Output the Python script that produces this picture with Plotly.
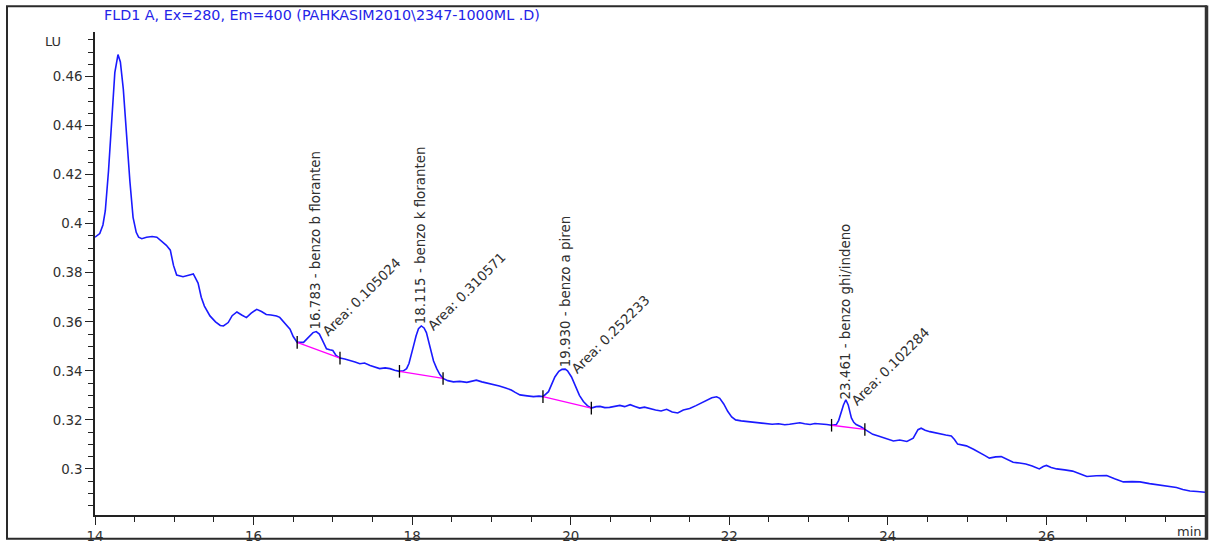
import numpy as np
import plotly.graph_objects as go

# FLD1 chromatogram: retention time (min) vs signal (LU)
time_min = [
    14.00, 14.06, 14.10, 14.13, 14.17, 14.21, 14.25, 14.29, 14.32, 14.357, 14.40, 14.44,
    14.48, 14.52, 14.55, 14.59, 14.65, 14.72, 14.78, 14.84, 14.90, 14.95, 14.99, 15.03,
    15.11, 15.18, 15.24, 15.30, 15.34, 15.38, 15.45, 15.52, 15.58, 15.62, 15.68, 15.73,
    15.79, 15.85, 15.91, 15.97, 16.04, 16.10, 16.16, 16.22, 16.29, 16.33, 16.40, 16.46,
    16.50, 16.55, 16.63, 16.70, 16.75, 16.79, 16.83, 16.86, 16.92, 16.96, 17.00, 17.04,
    17.09, 17.15, 17.22, 17.28, 17.34, 17.40, 17.47, 17.53, 17.59, 17.66, 17.72, 17.78,
    17.84, 17.89, 17.93, 17.96, 17.99, 18.02, 18.05, 18.08, 18.115, 18.15, 18.18, 18.21,
    18.24, 18.27, 18.31, 18.35, 18.39, 18.45, 18.52, 18.60, 18.69, 18.75, 18.81, 18.88,
    18.95, 19.02, 19.10, 19.18, 19.25, 19.30, 19.36, 19.45, 19.53, 19.60, 19.65, 19.72,
    19.76, 19.80, 19.85, 19.89, 19.93, 19.96, 20.01, 20.07, 20.11, 20.16, 20.21, 20.26,
    20.32, 20.37, 20.43, 20.49, 20.56, 20.62, 20.68, 20.75, 20.81, 20.87, 20.93, 21.00,
    21.07, 21.14, 21.21, 21.28, 21.35, 21.42, 21.50, 21.58, 21.65, 21.72, 21.78, 21.84,
    21.88, 21.93, 21.98, 22.03, 22.08, 22.15, 22.22, 22.30, 22.38, 22.46, 22.54, 22.62,
    22.70, 22.76, 22.83, 22.89, 22.95, 23.02, 23.08, 23.14, 23.20, 23.23, 23.29, 23.35,
    23.38, 23.40, 23.44, 23.47, 23.50, 23.54, 23.57, 23.60, 23.66, 23.71, 23.76, 23.81,
    23.88, 23.94, 24.00, 24.07, 24.15, 24.24, 24.32, 24.38, 24.42, 24.47, 24.53, 24.60,
    24.66, 24.73, 24.80, 24.84, 24.88, 24.94, 24.99, 25.08, 25.16, 25.22, 25.28, 25.36,
    25.43, 25.50, 25.58, 25.66, 25.74, 25.82, 25.91, 25.96, 26.00, 26.06, 26.13, 26.23,
    26.33, 26.42, 26.51, 26.63, 26.76, 26.86, 26.97, 27.08, 27.18, 27.30, 27.43, 27.53,
    27.64, 27.72, 27.81, 27.90, 28.00,
]
signal_lu = [
    0.3945, 0.3960, 0.3995, 0.4053, 0.4214, 0.4415, 0.4616, 0.4690, 0.4660, 0.4549, 0.4348, 0.4173,
    0.4026, 0.3965, 0.3945, 0.3939, 0.3945, 0.3948, 0.3945, 0.3930, 0.3912, 0.3892, 0.3830, 0.3791,
    0.3784, 0.3790, 0.3795, 0.3758, 0.3700, 0.3664, 0.3624, 0.3600, 0.3585, 0.3583, 0.3597, 0.3625,
    0.3640, 0.3628, 0.3617, 0.3635, 0.3651, 0.3642, 0.3630, 0.3628, 0.3624, 0.3618, 0.3592, 0.3570,
    0.3540, 0.3516, 0.3516, 0.3538, 0.3556, 0.3560, 0.3550, 0.3530, 0.3490, 0.3486, 0.3483, 0.3463,
    0.3452, 0.3448, 0.3443, 0.3436, 0.3429, 0.3432, 0.3422, 0.3416, 0.3409, 0.3412, 0.3409, 0.3402,
    0.3398, 0.3400, 0.3409, 0.3430, 0.3463, 0.3505, 0.3543, 0.3572, 0.3583, 0.3575, 0.3556, 0.3518,
    0.3476, 0.3440, 0.3409, 0.3385, 0.3369, 0.3360, 0.3355, 0.3357, 0.3353, 0.3358, 0.3362, 0.3355,
    0.3350, 0.3344, 0.3338, 0.3330, 0.3322, 0.3312, 0.3302, 0.3298, 0.3295, 0.3297, 0.3295, 0.3315,
    0.3345, 0.3375, 0.3398, 0.3406, 0.3407, 0.3400, 0.3375, 0.3329, 0.3300, 0.3275, 0.3258, 0.3248,
    0.3254, 0.3255, 0.3250, 0.3251, 0.3257, 0.3259, 0.3254, 0.3262, 0.3255, 0.3248, 0.3252, 0.3245,
    0.3240, 0.3236, 0.3243, 0.3232, 0.3228, 0.3240, 0.3246, 0.3258, 0.3270, 0.3282, 0.3290, 0.3294,
    0.3288, 0.3265, 0.3235, 0.3212, 0.3200, 0.3196, 0.3194, 0.3190, 0.3189, 0.3186, 0.3182, 0.3184,
    0.3180, 0.3182, 0.3185, 0.3188, 0.3184, 0.3181, 0.3185, 0.3184, 0.3180, 0.3181, 0.3178, 0.3181,
    0.3198, 0.3221, 0.3261, 0.3282, 0.3261, 0.3208, 0.3190, 0.3181, 0.3172, 0.3161, 0.3152, 0.3141,
    0.3134, 0.3128, 0.3122, 0.3114, 0.3118, 0.3112, 0.3125, 0.3160, 0.3166, 0.3158, 0.3152, 0.3146,
    0.3141, 0.3138, 0.3134, 0.3120, 0.3101, 0.3098, 0.3094, 0.3080, 0.3067, 0.3055, 0.3044, 0.3049,
    0.3050, 0.3038, 0.3027, 0.3024, 0.3020, 0.3012, 0.3000, 0.3010, 0.3014, 0.3006, 0.3000, 0.2996,
    0.2991, 0.2980, 0.2969, 0.2972, 0.2973, 0.2960, 0.2947, 0.2948, 0.2947, 0.2940, 0.2933, 0.2928,
    0.2924, 0.2916, 0.2910, 0.2908, 0.2905,
]

# Integrated peaks
peak_rt = [16.783, 18.115, 19.930, 23.461]
peak_name = ["benzo b floranten", "benzo k floranten", "benzo a piren", "benzo ghi/indeno"]
peak_area = [0.105024, 0.310571, 0.252233, 0.102284]

# Integration baselines (start / end of each peak)
base_start_t = [16.55, 17.84, 19.65, 23.29]
base_start_v = [0.3516, 0.3398, 0.3295, 0.3178]
base_end_t = [17.09, 18.39, 20.26, 23.71]
base_end_v = [0.3452, 0.3369, 0.3248, 0.3161]

x_ticks = [14, 16, 18, 20, 22, 24, 26]
y_ticks = [0.30, 0.32, 0.34, 0.36, 0.38, 0.40, 0.42, 0.44, 0.46]
y_tick_text = ["0.3", "0.32", "0.34", "0.36", "0.38", "0.4", "0.42", "0.44", "0.46"]

title_text = "FLD1 A, Ex=280, Em=400 (PAHKASIM2010\\2347-1000ML .D)"

FONT = "DejaVu Sans"
TEXT = "#303030"
LABEL_SIZE = 13.4

fig = go.Figure()

fig.add_trace(go.Scatter(
    x=time_min, y=signal_lu, mode="lines",
    line=dict(color="#1a1aff", width=1.6), hoverinfo="skip", showlegend=False,
))

# baselines as separated segments
bx, by = [], []
for t0, v0, t1, v1 in zip(base_start_t, base_start_v, base_end_t, base_end_v):
    bx += [t0, t1, None]
    by += [v0, v1, None]
fig.add_trace(go.Scatter(
    x=bx, y=by, mode="lines", line=dict(color="#ff00ff", width=1.3),
    hoverinfo="skip", showlegend=False,
))

# small tick marks at baseline ends
fig.add_trace(go.Scatter(
    x=base_start_t + base_end_t, y=base_start_v + base_end_v, mode="markers",
    marker=dict(symbol="line-ns", size=9, line=dict(color="#000000", width=1.3)),
    hoverinfo="skip", showlegend=False,
))

annotations = []
apex = np.interp(peak_rt, time_min, signal_lu)
for rt, name, area, top in zip(peak_rt, peak_name, peak_area, apex):
    annotations.append(dict(
        x=rt, y=top, xref="x", yref="y", text=f"{rt:.3f} - {name}",
        showarrow=False, textangle=-90, xanchor="center", yanchor="bottom",
        yshift=0, font=dict(family=FONT, size=LABEL_SIZE, color=TEXT),
    ))
    annotations.append(dict(
        x=rt, y=top, xref="x", yref="y", text=f"Area: {area:g}",
        showarrow=False, textangle=-45, xanchor="left", yanchor="bottom",
        xshift=1, yshift=-10, font=dict(family=FONT, size=LABEL_SIZE, color=TEXT),
    ))

# plot-area geometry in pixels (for frame and free text)
W, H = 1212, 551
L, R, T, B = 95, 7, 32, 29
pw, ph = W - L - R, H - T - B


def px(xp):
    return (xp - L) / pw


def py(yp):
    return (H - B - yp) / ph


annotations += [
    dict(x=px(102), y=py(15), xref="paper", yref="paper", text=title_text,
         showarrow=False, xanchor="left", yanchor="middle",
         font=dict(family=FONT, size=14.3, color="#2424e8")),
    dict(x=px(53), y=py(42), xref="paper", yref="paper", text="LU",
         showarrow=False, xanchor="center", yanchor="middle",
         font=dict(family=FONT, size=13, color=TEXT)),
    dict(x=px(1204), y=py(539), xref="paper", yref="paper", text="min",
         showarrow=False, xanchor="right", yanchor="middle",
         font=dict(family=FONT, size=13, color=TEXT)),
]

fig.update_layout(
    width=W, height=H,
    margin=dict(l=L, r=R, t=T, b=B),
    paper_bgcolor="white", plot_bgcolor="white",
    annotations=annotations,
    shapes=[
        dict(type="rect", xref="paper", yref="paper",
             x0=px(7), x1=px(1206), y0=py(546), y1=py(6),
             line=dict(color="#2a2a2a", width=2), layer="below"),
        dict(type="line", xref="paper", yref="paper",
             x0=px(1206.5), x1=px(1206.5), y0=py(547), y1=py(5),
             line=dict(color="#333333", width=3.5), layer="above"),
    ],
    xaxis=dict(
        range=[14, 28], tickvals=x_ticks, ticks="outside", ticklen=8, tickwidth=1.3,
        tickcolor="#222", showline=True, linecolor="#222", linewidth=1.5,
        showgrid=False, zeroline=False, tickfont=dict(family=FONT, size=13.4, color=TEXT),
        minor=dict(dtick=0.5, ticks="outside", ticklen=5, tickwidth=1.3, tickcolor="#222"),
    ),
    yaxis=dict(
        range=[0.2812, 0.4782], tickvals=y_ticks, ticktext=y_tick_text, ticks="outside",
        ticklen=8, tickwidth=1.3, tickcolor="#222", showline=True, linecolor="#222",
        linewidth=1.5, showgrid=False, zeroline=False,
        tickfont=dict(family=FONT, size=13.4, color=TEXT),
        minor=dict(dtick=0.005, tick0=0.3, ticks="outside", ticklen=5, tickwidth=1.3,
                   tickcolor="#222"),
    ),
)

fig.write_html("out.html")
